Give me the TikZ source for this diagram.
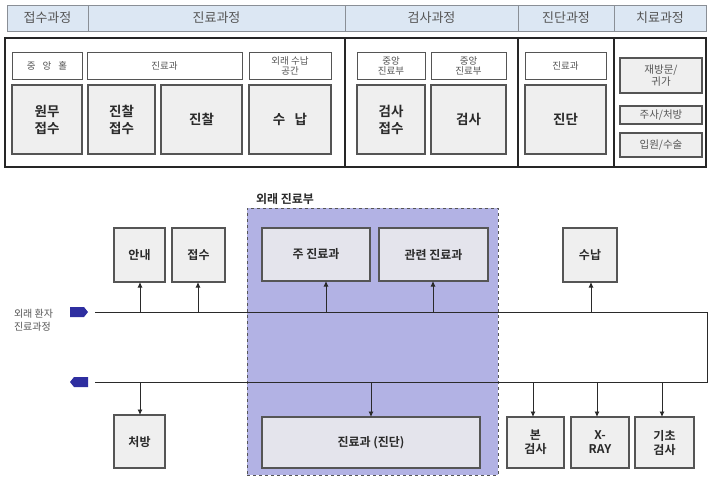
\documentclass[tikz,border=0pt]{standalone}
\usepackage{fontspec}
\setmainfont{Noto Sans CJK KR}[BoldFont={Noto Sans CJK KR Bold}]
\usetikzlibrary{arrows.meta}
\definecolor{hdr}{HTML}{DCE7F3}
\definecolor{hdrline}{HTML}{8A8F96}
\definecolor{boxfill}{HTML}{EFEFEF}
\definecolor{boxline}{HTML}{555555}
\definecolor{purp}{HTML}{B2B2E4}
\definecolor{inbox}{HTML}{E4E4EC}
\definecolor{tagblue}{HTML}{2E2EA0}
\definecolor{txt}{HTML}{2A2A2A}
\definecolor{ltxt}{HTML}{555555}
\newcommand\mybox[7]{\node[#7, minimum width={(#4-#2)*1pt}, minimum height={(#5-#3)*1pt}] (#1) at ({(#2+#4)/2},{(#3+#5)/2}) {#6};}
\tikzset{
  base/.style={inner sep=0pt, outer sep=0pt, align=center, text=txt},
  hcell/.style={base, draw=hdrline, fill=hdr, line width=0.9pt, text=ltxt, font=\fontsize{13}{15}\selectfont},
  lbl/.style={base, draw=boxline, fill=white, line width=1pt, text=ltxt, font=\fontsize{9.5}{10}\selectfont},
  big/.style={base, draw=boxline, fill=boxfill, line width=1.3pt, font=\bfseries\fontsize{13.5}{17}\selectfont},
  small/.style={base, draw=boxline, fill=boxfill, line width=1.3pt, text=ltxt, font=\fontsize{10.5}{12}\selectfont},
  fbox/.style={base, draw=boxline, fill=boxfill, line width=1.3pt, font=\bfseries\fontsize{12}{14}\selectfont},
  ibox/.style={fbox, fill=inbox},
  arr/.style={draw=txt, line width=0.8pt, -{Latex[length=5.5pt,width=5pt]}},
  ln/.style={draw=txt, line width=0.8pt},
  tag/.style={fill=tagblue, draw=none}
}
\begin{document}
\begin{tikzpicture}[x=1pt,y=-1pt]
\useasboundingbox (0,0) rectangle (710,477);
% header
\mybox{h1}{7}{5}{88}{31}{접수과정}{hcell}
\mybox{h2}{88}{5}{345}{31}{진료과정}{hcell}
\mybox{h3}{345}{5}{518}{31}{검사과정}{hcell}
\mybox{h4}{518}{5}{614}{31}{진단과정}{hcell}
\mybox{h5}{614}{5}{706}{31}{치료과정}{hcell}
% main frame
\mybox{frame}{5}{38}{706}{167}{}{base, draw=black!85, line width=1.6pt}
\coordinate (d1t) at (345,38); \coordinate (d1b) at (345,167);
\coordinate (d2t) at (518,38); \coordinate (d2b) at (518,167);
\coordinate (d3t) at (614,38); \coordinate (d3b) at (614,167);
\draw[draw=black!85, line width=1.6pt] (d1t) -- (d1b) (d2t) -- (d2b) (d3t) -- (d3b);
% top labels
\mybox{l1}{12}{52}{82}{79}{중\hspace{5pt} 앙\hspace{5pt} 홀}{lbl}
\mybox{l2}{87}{52}{242}{79}{진료과}{lbl}
\mybox{l3}{249}{52}{331}{79}{외래 수납\\공간}{lbl}
\mybox{l4}{357}{52}{425}{79}{중앙\\진료부}{lbl}
\mybox{l5}{431}{52}{506}{79}{중앙\\진료부}{lbl}
\mybox{l6}{525}{52}{606}{79}{진료과}{lbl}
% big boxes
\mybox{b1}{12}{85}{82}{154}{원무\\접수}{big}
\mybox{b2}{88}{85}{155}{154}{진찰\\접수}{big}
\mybox{b3}{161}{85}{242}{154}{진찰}{big}
\mybox{b4}{249}{85}{331}{154}{수~~~납}{big}
\mybox{b5}{357}{85}{425}{154}{검사\\접수}{big}
\mybox{b6}{431}{85}{506}{154}{검사}{big}
\mybox{b7}{525}{85}{606}{154}{진단}{big}
% treatment
\mybox{t1}{620}{58}{702}{93}{재방문/\\귀가}{small}
\mybox{t2}{620}{106}{702}{124}{주사/처방}{small}
\mybox{t3}{620}{133}{702}{157}{입원/수술}{small}

% ---------- lower diagram ----------
\mybox{dept}{247}{208}{498}{475}{}{base, fill=purp, draw=boxline, dashed, line width=0.9pt}
\node[base, anchor=south west, font=\bfseries\fontsize{12}{14}\selectfont] (deptlbl) at (256,205) {외래 진료부};

\mybox{anne}{114}{228}{165}{282}{안내}{fbox}
\mybox{jeop}{172}{228}{225}{282}{접수}{fbox}
\mybox{juj}{262}{228}{370}{281}{주~진료과}{ibox}
\mybox{gwan}{379}{228}{488}{281}{관련 진료과}{ibox}
\mybox{sunap}{563}{228}{617}{282}{수납}{fbox}

\mybox{cheo}{114}{415}{165}{468}{처방}{fbox}
\mybox{jind}{262}{417}{480}{468}{진료과 (진단)}{ibox}
\mybox{bon}{507}{417}{564}{468}{본\\검사}{fbox}
\mybox{xray}{571}{417}{629}{468}{X-\\RAY}{fbox}
\mybox{gicho}{635}{417}{694}{468}{기초\\검사}{fbox}

% flow lines
\coordinate (la) at (95,312); \coordinate (ra) at (707,312);
\coordinate (rb) at (707,382); \coordinate (lb) at (95,382);
\draw[ln] (la) -- (ra) -- (rb) -- (lb);

% tags
\fill[tag] (70,307) -- (84,307) -- (88,312) -- (84,317) -- (70,317) -- cycle;
\fill[tag] (88,377) -- (74,377) -- (70,382) -- (74,387) -- (88,387) -- cycle;
\node[base, anchor=west, align=left, text=ltxt, font=\fontsize{10}{13}\selectfont] (ptxt) at (14,320) {외래 환자\\진료과정};

% arrows up
\coordinate (u1) at (140,312); \coordinate (u2) at (198,312);
\coordinate (u3) at (326,312); \coordinate (u4) at (433,312);
\coordinate (u5) at (591,312);
\draw[arr] (u1) -- (u1 |- anne.south);
\draw[arr] (u2) -- (u2 |- jeop.south);
\draw[arr] (u3) -- (u3 |- juj.south);
\draw[arr] (u4) -- (u4 |- gwan.south);
\draw[arr] (u5) -- (u5 |- sunap.south);
% arrows down
\coordinate (v1) at (140,382); \coordinate (v2) at (371,382);
\coordinate (v3) at (533,382); \coordinate (v4) at (597,382);
\coordinate (v5) at (662,382);
\draw[arr] (v1) -- (v1 |- cheo.north);
\draw[arr] (v2) -- (v2 |- jind.north);
\draw[arr] (v3) -- (v3 |- bon.north);
\draw[arr] (v4) -- (v4 |- xray.north);
\draw[arr] (v5) -- (v5 |- gicho.north);
\end{tikzpicture}
\end{document}
